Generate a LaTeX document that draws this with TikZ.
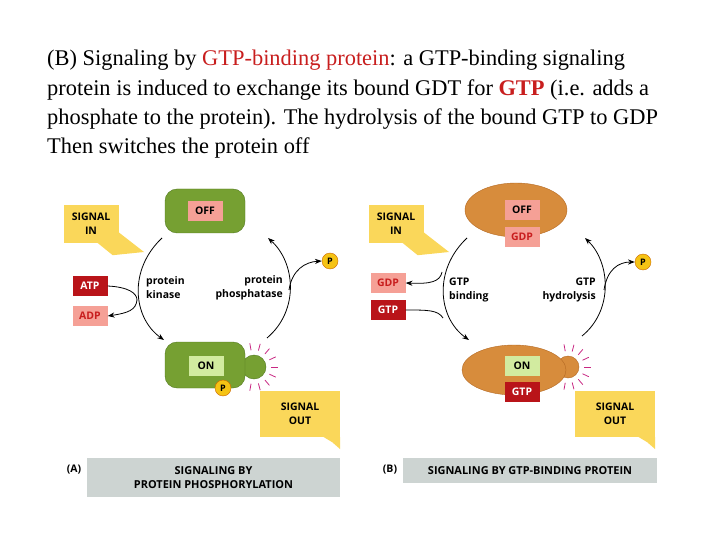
\documentclass[tikz,border=0pt]{standalone}
\usepackage{fontspec}
\setmainfont{Liberation Serif}
\setsansfont{Open Sans}
\usepackage{xcolor}
\usetikzlibrary{shapes.geometric, arrows.meta, positioning, calc}
\definecolor{tred}{RGB}{200,30,30}
\definecolor{pgreen}{RGB}{118,160,50}
\definecolor{pgreenD}{RGB}{80,120,30}
\definecolor{porange}{RGB}{215,140,60}
\definecolor{porangeD}{RGB}{180,105,35}
\definecolor{sigyel}{RGB}{250,215,90}
\definecolor{darkred}{RGB}{185,20,25}
\definecolor{lightred}{RGB}{245,160,150}
\definecolor{lightgrn}{RGB}{210,235,160}
\definecolor{pyel}{RGB}{245,195,20}
\definecolor{capgray}{RGB}{205,212,210}
\definecolor{magen}{RGB}{200,40,130}

\begin{document}
\begin{tikzpicture}[x=1bp, y=-1bp,
    lbl/.style={font=\sffamily\bfseries\fontsize{10.5}{12}\selectfont, inner sep=2pt, minimum height=20bp},
    tag/.style={lbl, minimum width=35bp},
    sig/.style={fill=sigyel, font=\sffamily\bfseries\fontsize{10.5}{14}\selectfont, align=center, inner sep=3pt},
    phos/.style={circle, fill=pyel, draw=orange!80!black, font=\sffamily\bfseries\fontsize{9}{9}\selectfont, inner sep=0pt, minimum size=16bp},
    txt/.style={font=\sffamily\bfseries\fontsize{10.5}{14}\selectfont, inner sep=0pt},
    arrow/.style={-{Stealth[length=2.4mm]}, thick},
    caption/.style={fill=capgray, font=\sffamily\bfseries\fontsize{11}{14}\selectfont, align=center}
]
\useasboundingbox (0,0) rectangle (720,540);

% Heading
\node[anchor=north west, align=left, inner sep=0pt,
      font=\fontsize{22.5}{29.5}\selectfont] (head) at (47,50)
  {(B) Signaling by \textcolor{tred}{GTP-binding protein}: a GTP-binding signaling\\
   protein is induced to exchange its bound GDT for \textcolor{tred}{\textbf{GTP}} (i.e. adds a\\
   phosphate to the protein). The hydrolysis of the bound GTP to GDP\\
   Then switches the protein off};

% Panel A
\node[circle, fill=pgreen, draw=pgreenD, minimum size=24bp] (knobA) at (254,367) {};
\node[rectangle, rounded corners=12bp, fill=pgreen, draw=pgreenD, minimum width=80bp, minimum height=44bp] (offA) at (205,211) {};
\node[tag, fill=lightred] (offAl) at (205,211) {OFF};
\node[rectangle, rounded corners=12bp, fill=pgreen, draw=pgreenD, minimum width=80bp, minimum height=46bp] (onA) at (205,365) {};
\node[tag, fill=lightgrn] (onAl) at (206,366) {ON};
\node[phos] (pA) at (223,388) {P};
\foreach \a in {-100,-75,...,100}
  \draw[magen, thick] ($(knobA)+(\a:17)$) -- ($(knobA)+(\a:24)$);
\node[sig, minimum width=55bp, minimum height=38bp] (inA) at (91,224) {SIGNAL\\IN};
\fill[sigyel] ($(inA.south east)+(-22,-1)$) -- (inA.south east) -- ($(inA.south east)+(-4,-14)$) -- (144,252) -- ($(inA.south east)+(-6,12)$) -- cycle;
\node[tag, fill=darkred, text=white] (atp) at (90,286) {ATP};
\node[tag, fill=lightred, text=tred] (adp) at (90,316) {ADP};
\coordinate (kinS) at (162,238);
\coordinate (kinE) at (164,340);
\draw[arrow] (kinS) .. controls (128,270) and (133,318) .. (kinE);
\draw[thick] (atp.east) .. controls (128,287) and (137,293) .. (137,300);
\draw[arrow] (137,300) .. controls (136,310) and (128,313) .. (adp.east);
\node[txt, anchor=west, align=left] (kinL) at (146,288) {protein\\kinase};
\node[txt, anchor=east, align=right] (phoL) at (283,288) {protein\\phosphatase};
\coordinate (phS) at (267,338);
\coordinate (phE) at (268,238);
\draw[arrow] (phS) .. controls (300,310) and (295,262) .. (phE);
\node[phos] (pA2) at (330,261) {P};
\draw[arrow] (289,290) .. controls (292,270) and (305,262) .. (pA2.west);
\node[sig, minimum width=80bp, minimum height=46bp] (outA) at (300,414) {SIGNAL\\OUT};
\fill[sigyel] ($(outA.south east)+(-18,-1)$) -- (outA.south east) -- ++(0,12) -- ($(outA.south east)+(-8,5)$) -- cycle;
\node[txt] (capAl) at (74,470) {(A)};
\node[caption, minimum width=253bp, minimum height=39bp] (capA) at (213.5,477.5) {SIGNALING BY\\PROTEIN PHOSPHORYLATION};

% Panel B
\node[circle, fill=porange, draw=porangeD, minimum size=22bp] (knobB) at (568,367) {};
\node[ellipse, fill=porange, draw=porangeD, minimum width=102bp, minimum height=54bp] (offB) at (516,210) {};
\node[tag, fill=lightred] (offBl) at (522,210) {OFF};
\node[tag, fill=lightred, text=tred] (gdpB) at (522,237) {GDP};
\node[ellipse, fill=porange, draw=porangeD, minimum width=104bp, minimum height=50bp] (onB) at (514,370) {};
\node[tag, fill=lightgrn] (onBl) at (522,366) {ON};
\node[tag, fill=darkred, text=white] (gtpB) at (522,392) {GTP};
\foreach \a in {-100,-75,...,100}
  \draw[magen, thick] ($(knobB)+(\a:16)$) -- ($(knobB)+(\a:23)$);
\node[sig, minimum width=55bp, minimum height=38bp] (inB) at (396,224) {SIGNAL\\IN};
\fill[sigyel] ($(inB.south east)+(-22,-1)$) -- (inB.south east) -- ($(inB.south east)+(-4,-14)$) -- (449,252) -- ($(inB.south east)+(-6,12)$) -- cycle;
\node[tag, fill=lightred, text=tred] (gdpL) at (388,283) {GDP};
\node[tag, fill=darkred, text=white] (gtpL) at (388,310) {GTP};
\coordinate (bndS) at (467,238);
\coordinate (bndE) at (469,340);
\draw[arrow] (bndS) .. controls (433,270) and (438,318) .. (bndE);
\draw[arrow] (442,272) .. controls (440,282) and (430,284) .. (gdpL.east);
\draw[thick] (gtpL.east) .. controls (428,310) and (438,310) .. (443,318);
\node[txt, anchor=west, align=left] (bndL) at (449,290) {GTP\\binding};
\node[txt, anchor=east, align=right] (hydL) at (596,290) {GTP\\hydrolysis};
\coordinate (hyS) at (582,336);
\coordinate (hyE) at (585,238);
\draw[arrow] (hyS) .. controls (614,310) and (610,262) .. (hyE);
\node[phos] (pB) at (643,262) {P};
\draw[arrow] (604,290) .. controls (607,270) and (618,262) .. (pB.west);
\node[sig, minimum width=80bp, minimum height=46bp] (outB) at (615,414) {SIGNAL\\OUT};
\fill[sigyel] ($(outB.south east)+(-18,-1)$) -- (outB.south east) -- ++(0,12) -- ($(outB.south east)+(-8,5)$) -- cycle;
\node[txt] (capBl) at (390,470) {(B)};
\node[caption, minimum width=254bp, minimum height=25bp] (capB) at (530,470.5) {SIGNALING BY GTP-BINDING PROTEIN};

\end{tikzpicture}
\end{document}
